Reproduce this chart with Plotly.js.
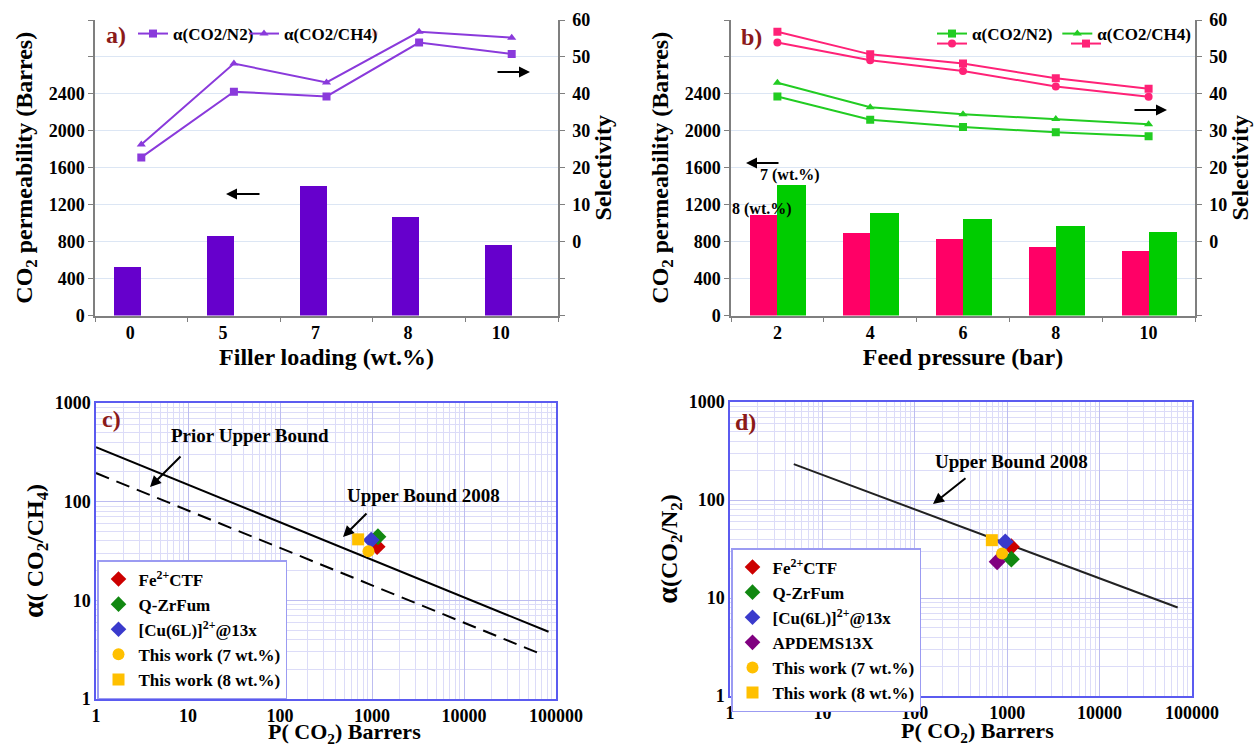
<!DOCTYPE html>
<html><head><meta charset="utf-8">
<script src="https://cdn.plot.ly/plotly-3.0.1.min.js"></script>
<style>html,body{margin:0;padding:0;background:#fff;overflow:hidden;} #chart{width:1257px;height:747px;overflow:hidden;}</style>
</head><body><div id="chart"></div>
<script>
// ---- Panel a data ----
const aCats = ['0', '5', '7', '8', '10'];
const aPerm = [523, 866, 1400, 1072, 765];
const aSelN2 = [22.8, 40.6, 39.3, 53.9, 50.8];
const aSelCH4 = [26.3, 48.2, 43.1, 56.8, 55.2];

// ---- Panel b data ----
const bCats = ['2', '4', '6', '8', '10'];
const bPerm8 = [1083, 891, 830, 747, 700];
const bPerm7 = [1415, 1115, 1047, 971, 902];
const bSelN2_8 = [53.9, 49.1, 46.2, 42.0, 39.2];
const bSelCH4_8 = [56.8, 50.7, 48.2, 44.2, 41.4];
const bSelN2_7 = [39.3, 33.0, 31.0, 29.6, 28.5];
const bSelCH4_7 = [43.0, 36.4, 34.5, 33.2, 31.8];

// ---- Panel c data (CO2/CH4) ----
const cNames = ['Fe<sup>2+</sup>CTF', 'Q-ZrFum', '[Cu(6L)]<sup>2+</sup>@13x', 'This work (7 wt.%)', 'This work (8 wt.%)'];
const cP = [1137, 1160, 980, 915, 707];
const cAlpha = [35.0, 44.1, 40.8, 31.4, 41.5];
const cUpperP = [1, 83000];
const cUpperA = [357, 4.8];
const cPriorP = [1, 66000];
const cPriorA = [195, 2.9];

// ---- Panel d data (CO2/N2) ----
const dNames = ['Fe<sup>2+</sup>CTF', 'Q-ZrFum', '[Cu(6L)]<sup>2+</sup>@13x', 'APDEMS13X', 'This work (7 wt.%)', 'This work (8 wt.%)'];
const dP = [1109, 1109, 953, 778, 879, 682];
const dAlpha = [33.3, 24.9, 37.4, 23.4, 28.5, 38.9];
const dUpperP = [4.9, 70000];
const dUpperA = [232, 8.0];

// ---- tick labels ----
const permTicks = [0, 400, 800, 1200, 1600, 2000, 2400];
const permText = ['0', '400', '800', '1200', '1600', '2000', '2400'];
const permExtraTicks = [2800, 3200];
const selTicks = [0, 10, 20, 30, 40, 50, 60];
const selText = ['0', '10', '20', '30', '40', '50', '60'];
const selExtraTicks = [-20, -10];
const logXTicks = [1, 10, 100, 1000, 10000, 100000];
const logXText = ['1', '10', '100', '1000', '10000', '100000'];
const logYTicks = [1, 10, 100, 1000];
const logYText = ['1', '10', '100', '1000'];

// ---- styles ----
const cColors = ['#CC0000', '#118811', '#3A3ACC', '#FFC000', '#FFC000'];
const cSymbols = ['diamond', 'diamond', 'diamond', 'circle', 'square'];
const dColors = ['#CC0000', '#118811', '#3A3ACC', '#800080', '#FFC000', '#FFC000'];
const dSymbols = ['diamond', 'diamond', 'diamond', 'diamond', 'circle', 'square'];

const W = 1257, H = 747;
const fx = p => p / W;
const fy = p => 1 - p / H;
const FONT = 'Liberation Serif, Times New Roman, serif';
const GRAY = '#7f7f7f';
const PURPLE_BAR = '#6600CC', PURPLE_LINE = '#8A3ADB';
const PINK = '#FF0066', PINK_LINE = '#FF2277';
const GREEN = '#00CC00', GREEN_LINE = '#22CC22';
const BLUE_FRAME = '#5B5BF0';

const traces = [];
// Panel a
traces.push({type: 'bar', x: aCats, y: aPerm, xaxis: 'x', yaxis: 'y', width: 0.29, offset: -0.29,
  marker: {color: PURPLE_BAR}, showlegend: false, hoverinfo: 'skip'});
traces.push({type: 'scatter', mode: 'lines+markers', x: aCats, y: aSelN2, xaxis: 'x', yaxis: 'y2',
  name: 'α(CO2/N2)', legend: 'legend', line: {color: PURPLE_LINE, width: 2},
  marker: {symbol: 'square', size: 8, color: PURPLE_LINE}});
traces.push({type: 'scatter', mode: 'lines+markers', x: aCats, y: aSelCH4, xaxis: 'x', yaxis: 'y2',
  name: 'α(CO2/CH4)', legend: 'legend', line: {color: PURPLE_LINE, width: 2},
  marker: {symbol: 'triangle-up', size: 8, color: PURPLE_LINE}});
// invisible spacer entry so the last legend label of panel a is not clipped
traces.push({type: 'scatter', mode: 'markers', x: [null], y: [null], name: ' ', legend: 'legend',
  marker: {opacity: 0}, hoverinfo: 'skip', xaxis: 'x', yaxis: 'y2'});

// Panel b
traces.push({type: 'bar', x: bCats, y: bPerm8, xaxis: 'x2', yaxis: 'y3', width: 0.29, offset: -0.29,
  marker: {color: PINK}, showlegend: false, hoverinfo: 'skip'});
traces.push({type: 'bar', x: bCats, y: bPerm7, xaxis: 'x2', yaxis: 'y3', width: 0.31, offset: 0,
  marker: {color: GREEN}, showlegend: false, hoverinfo: 'skip'});
traces.push({type: 'scatter', mode: 'lines+markers', x: bCats, y: bSelN2_7, xaxis: 'x2', yaxis: 'y4',
  name: 'α(CO2/N2)', legend: 'legend2', line: {color: GREEN_LINE, width: 2},
  marker: {symbol: 'square', size: 8, color: GREEN_LINE}});
traces.push({type: 'scatter', mode: 'lines+markers', x: bCats, y: bSelCH4_7, xaxis: 'x2', yaxis: 'y4',
  name: 'α(CO2/CH4)', legend: 'legend2', line: {color: GREEN_LINE, width: 2},
  marker: {symbol: 'triangle-up', size: 8, color: GREEN_LINE}});
traces.push({type: 'scatter', mode: 'lines+markers', x: bCats, y: bSelN2_8, xaxis: 'x2', yaxis: 'y4',
  name: ' ', legend: 'legend5', line: {color: PINK_LINE, width: 2},
  marker: {symbol: 'circle', size: 8, color: PINK_LINE}});
traces.push({type: 'scatter', mode: 'lines+markers', x: bCats, y: bSelCH4_8, xaxis: 'x2', yaxis: 'y4',
  name: ' ', legend: 'legend5', line: {color: PINK_LINE, width: 2},
  marker: {symbol: 'square', size: 8, color: PINK_LINE}});

// Panel c
traces.push({type: 'scatter', mode: 'lines', x: cUpperP, y: cUpperA, xaxis: 'x3', yaxis: 'y5',
  line: {color: '#000', width: 2}, showlegend: false, hoverinfo: 'skip'});
traces.push({type: 'scatter', mode: 'lines', x: cPriorP, y: cPriorA, xaxis: 'x3', yaxis: 'y5',
  line: {color: '#000', width: 2, dash: '14px,8px'}, showlegend: false, hoverinfo: 'skip'});
cNames.forEach((n, i) => traces.push({type: 'scatter', mode: 'markers', x: [cP[i]], y: [cAlpha[i]],
  xaxis: 'x3', yaxis: 'y5', name: n, legend: 'legend3',
  marker: {symbol: cSymbols[i], size: cSymbols[i] === 'diamond' ? 13 : 12, color: cColors[i]}}));

// Panel d
traces.push({type: 'scatter', mode: 'lines', x: dUpperP, y: dUpperA, xaxis: 'x4', yaxis: 'y6',
  line: {color: '#222', width: 2}, showlegend: false, hoverinfo: 'skip'});
dNames.forEach((n, i) => traces.push({type: 'scatter', mode: 'markers', x: [dP[i]], y: [dAlpha[i]],
  xaxis: 'x4', yaxis: 'y6', name: n, legend: 'legend4',
  marker: {symbol: dSymbols[i], size: dSymbols[i] === 'diamond' ? 13 : 12, color: dColors[i]}}));

const tickFont = {size: 18, family: FONT, weight: 'bold', color: '#000'};
const titleFont = {size: 24, family: FONT, weight: 'bold', color: '#000'};

function catX(domain, anchor, title, shift) {
  return {domain: domain, anchor: anchor, type: 'category', range: [-0.5, 4.5], tickson: 'boundaries',
    ticks: 'outside', ticklen: 5, tickcolor: GRAY, showline: true, linecolor: GRAY, linewidth: 1.5,
    showgrid: false, zeroline: false, ticklabelshift: shift, tickfont: tickFont,
    title: {text: title, font: titleFont, standoff: 6}};
}
function permY(domain, anchor) {
  return {domain: domain, anchor: anchor, range: [0, 3200], tickmode: 'array', tickvals: permTicks, ticktext: permText,
    ticks: 'outside', ticklen: 5, tickcolor: GRAY, showline: true, linecolor: GRAY, linewidth: 1.5,
    showgrid: true, gridcolor: '#DCE6F4', zeroline: false, tickfont: tickFont,
    minor: {tickmode: 'array', tickvals: permExtraTicks, ticks: 'outside', ticklen: 5, tickcolor: GRAY,
      showgrid: true, gridcolor: '#DCE6F4'},
    title: {text: 'CO<sub>2</sub> permeability (Barres)', font: titleFont, standoff: 9}};
}
function selY(over, anchor) {
  return {overlaying: over, anchor: anchor, side: 'right', range: [-20, 60], tickmode: 'array',
    tickvals: selTicks, ticktext: selText,
    ticks: 'outside', ticklen: 5, tickcolor: GRAY, showline: true, linecolor: GRAY, linewidth: 1.5,
    showgrid: false, zeroline: false, ticklabelstandoff: 4, tickfont: tickFont,
    minor: {tickmode: 'array', tickvals: selExtraTicks, ticks: 'outside', ticklen: 5, tickcolor: GRAY, showgrid: false},
    title: {text: 'Selectivity', font: titleFont, standoff: 4}};
}
function logAx(domain, anchor, range, vals, text, title, standoff) {
  const ax = {domain: domain, anchor: anchor, type: 'log', range: range, tickmode: 'array', tickvals: vals, ticktext: text,
    showline: true, mirror: true, linecolor: BLUE_FRAME, linewidth: 1.5, ticks: '',
    showgrid: true, gridcolor: '#BDBDF0', gridwidth: 1, zeroline: false,
    minor: {dtick: 'D1', showgrid: true, gridcolor: '#DCDCF8', gridwidth: 1},
    tickfont: tickFont};
  if (title) ax.title = {text: title, font: titleFont, standoff: standoff};
  return ax;
}

const yA = [fy(315.5), fy(20)];
const legFont = {size: 17, family: FONT, weight: 'bold', color: '#000'};
const layout = {
  width: W, height: H, margin: {l: 0, r: 0, t: 0, b: 0},
  paper_bgcolor: '#fff', plot_bgcolor: 'rgba(0,0,0,0)',
  font: {family: FONT, weight: 'bold', color: '#000', size: 17},
  barmode: 'overlay', bargap: 0,
  xaxis: catX([fx(95), fx(558)], 'y', 'Filler loading (wt.%)', -11),
  yaxis: permY(yA, 'x'),
  yaxis2: selY('y', 'x'),
  xaxis2: catX([fx(731), fx(1195)], 'y3', 'Feed pressure (bar)', 0),
  yaxis3: permY(yA, 'x2'),
  yaxis4: selY('y3', 'x2'),
  xaxis3: logAx([fx(96), fx(556)], 'y5', [0, 5], logXTicks, logXText, null, 0),
  yaxis5: logAx([fy(699), fy(403)], 'x3', [0, 3], logYTicks, logYText, '<span style="font-size:30px">α</span>( CO<sub>2</sub>/CH<sub>4</sub>)', 4),
  xaxis4: logAx([fx(730), fx(1192)], 'y6', [0, 5], logXTicks, logXText, null, 0),
  yaxis6: logAx([fy(696), fy(402)], 'x4', [0, 3], logYTicks, logYText, '<span style="font-size:30px">α</span>(CO<sub>2</sub>/N<sub>2</sub>)', 4),
  legend: {x: fx(133), y: fy(34), xanchor: 'left', yanchor: 'middle', orientation: 'h',
    bgcolor: 'rgba(0,0,0,0)', font: legFont, itemwidth: 30, entrywidth: 66, tracegroupgap: 0},
  legend2: {x: fx(932), y: fy(34), xanchor: 'left', yanchor: 'middle', orientation: 'h',
    bgcolor: 'rgba(0,0,0,0)', font: legFont, itemwidth: 30},
  legend5: {x: fx(932), y: fy(44), xanchor: 'left', yanchor: 'middle', orientation: 'h',
    bgcolor: 'rgba(0,0,0,0)', font: legFont, itemwidth: 30, entrywidth: 89},
  legend3: {x: fx(97), y: fy(560), xanchor: 'left', yanchor: 'top', bgcolor: '#fff',
    bordercolor: '#9B9BF2', borderwidth: 1.5, font: legFont, itemsizing: 'constant', itemwidth: 30},
  legend4: {x: fx(731), y: fy(548), xanchor: 'left', yanchor: 'top', bgcolor: '#fff',
    bordercolor: '#9B9BF2', borderwidth: 1.5, font: legFont, itemsizing: 'constant', itemwidth: 30},
  annotations: []
};

const ann = layout.annotations;
function label(text, x, y, size, color) {
  ann.push({text: text, x: fx(x), y: fy(y), xref: 'paper', yref: 'paper', showarrow: false,
    xanchor: 'center', yanchor: 'middle', borderpad: 0,
    font: {size: size, family: FONT, weight: 'bold', color: color || '#000'}});
}
function arrow(hx, hy, tx, ty) {
  ann.push({text: '', x: fx(hx), y: fy(hy), xref: 'paper', yref: 'paper', showarrow: true,
    ax: tx - hx, ay: ty - hy, arrowhead: 2, arrowsize: 1.1, arrowwidth: 2, arrowcolor: '#000', standoff: 0});
}
const RED = '#8B1A1A';
label('a)', 116, 35, 24, RED);
label('b)', 751, 37, 24, RED);
label('c)', 111, 419, 24, RED);
label('d)', 745, 422, 24, RED);
arrow(530, 72, 496, 72);
arrow(226, 194, 261, 194);
arrow(746, 163, 780, 163);
arrow(1167, 110, 1133, 110);
label('7 (wt.%)', 790, 175, 16);
label('8 (wt.%)', 762, 209, 16);
label('Prior Upper Bound', 250, 435, 19);
arrow(150, 487, 182, 455);
label('Upper Bound 2008', 423, 495, 19);
arrow(343, 537, 368, 512);
label('Upper Bound 2008', 1012, 461, 19);
arrow(933, 504, 967, 477);
// x-axis titles of the log-log panels
label('P( CO<sub>2</sub>) Barrers', 344, 733, 22);
label('P( CO<sub>2</sub>) Barrers', 977, 732, 22);

Plotly.newPlot('chart', traces, layout, {displayModeBar: false, responsive: false});
</script></body></html>
